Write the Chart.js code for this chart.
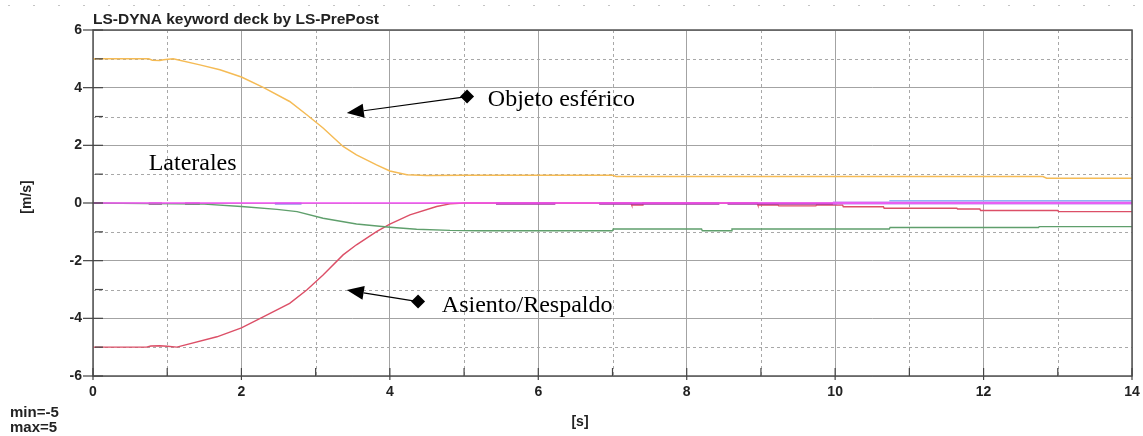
<!DOCTYPE html>
<html>
<head>
<meta charset="utf-8">
<title>LS-DYNA keyword deck by LS-PrePost</title>
<script src="https://cdn.jsdelivr.net/npm/chart.js@4.4.1/dist/chart.umd.min.js"></script>
<style>
  html,body{margin:0;padding:0;background:#fff;}
  #wrap{width:1143px;height:436px;position:relative;}
</style>
</head>
<body>
<div id="wrap"><canvas id="velChart" width="1143" height="436"></canvas></div>
<script>
/* ── DATA ─────────────────────────────────────────────── */
const xTicks = [0, 2, 4, 6, 8, 10, 12, 14];
const yTicks = [-6, -4, -2, 0, 2, 4, 6];

// Objeto esférico (orange)
const orangeT = [0, 0.75, 0.8, 0.9, 0.95, 1.08, 1.44, 1.71, 2.0, 2.3, 2.65, 2.88, 3.1, 3.37, 3.55, 3.82, 4.0, 4.23, 4.5, 5.0, 7.0, 7.05, 12.8, 12.85, 14];
const orangeV = [5, 5, 4.95, 4.94, 4.97, 5.0, 4.79, 4.62, 4.37, 4.0, 3.52, 3.06, 2.6, 1.96, 1.67, 1.32, 1.11, 0.98, 0.95, 0.96, 0.96, 0.92, 0.92, 0.86, 0.86];

// Asiento/Respaldo (red)
const redT = [0, 0.72, 0.78, 0.9, 1.0, 1.13, 1.67, 2.0, 2.3, 2.65, 2.88, 3.1, 3.37, 3.55, 3.82, 4.0, 4.27, 4.63, 4.81, 5.0, 7.25, 7.26, 7.4, 7.41, 8.95, 8.96, 9.23, 9.24, 9.74, 9.75, 10.1, 10.11, 10.65, 10.66, 11.64, 11.65, 11.95, 11.96, 13.0, 13.01, 14];
const redV = [-5, -5, -4.96, -4.95, -4.97, -5, -4.64, -4.33, -3.94, -3.48, -3.02, -2.5, -1.8, -1.45, -0.99, -0.73, -0.41, -0.12, -0.03, 0, 0, -0.07, -0.07, 0, 0, -0.07, -0.07, -0.1, -0.1, -0.07, -0.07, -0.13, -0.13, -0.18, -0.18, -0.21, -0.21, -0.26, -0.26, -0.3, -0.3];

// Laterales (green)
const greenT = [0, 1.5, 2.0, 2.48, 2.75, 3.1, 3.55, 4.0, 4.36, 4.81, 5.2, 7.0, 7.01, 8.2, 8.21, 8.6, 8.61, 10.73, 10.74, 12.74, 12.75, 14];
const greenV = [0, -0.04, -0.12, -0.22, -0.3, -0.53, -0.73, -0.84, -0.91, -0.95, -0.96, -0.96, -0.9, -0.9, -0.96, -0.96, -0.9, -0.9, -0.85, -0.85, -0.82, -0.82];

// small curves sitting on the zero line
const magentaT = [0, 14];
const magentaV = [0, 0];
const purpleStart = [0.75, 1.24, 5.43, 6.82, 8.55];
const purpleEnd   = [0.93, 1.44, 6.23, 8.44, 10.02];
const purpleV     = [-0.02, -0.02, -0.02, -0.02, -0.02];
const violetT = [2.45, 2.81];
const violetV = [-0.02, -0.02];
const lavenderT = [9.97, 14];
const lavenderV = [0.0, 0.0];
const blueT = [10.73, 14];
const blueV = [0.08, 0.08];

// callouts (data units)
const notes = [
  { text:'Objeto esférico',  tx:5.32, ty:3.58,  dx:5.04, dy:3.69,  ax:3.42, ay:3.12 },
  { text:'Asiento/Respaldo', tx:4.70, ty:-3.57, dx:4.38, dy:-3.42, ax:3.42, ay:-3.02 },
  { text:'Laterales',        tx:0.75, ty:1.36 },
];

/* ── HELPERS ──────────────────────────────────────────── */
const pts = (t, v) => t.map((x, i) => ({ x, y: v[i] }));
function segPts(s, e, v){
  const out = [];
  s.forEach((x, i) => { out.push({x, y:v[i]}, {x:e[i], y:v[i]}, {x:e[i], y:null}); });
  return out;
}
const ser = (label, data, color, w) => ({
  label, data, borderColor: color, borderWidth: w || 1.4,
  pointRadius: 0, tension: 0, fill: false, spanGaps: false
});

const AX_FONT = "'Liberation Sans', Arial, sans-serif";

/* ── FRAME / MINOR GRID / TEXT PLUGIN ─────────────────── */
const lsFrame = {
  id: 'lsFrame',
  beforeDatasetsDraw(chart){
    const {ctx, chartArea:a, scales:{x, y}} = chart;
    ctx.save();
    ctx.strokeStyle = '#a8a8a8';
    ctx.lineWidth = 1;
    ctx.setLineDash([3, 3]);
    for(let v = 1; v < 14; v += 2){
      const px = Math.round(x.getPixelForValue(v)) + 0.5;
      ctx.beginPath(); ctx.moveTo(px, a.top); ctx.lineTo(px, a.bottom); ctx.stroke();
    }
    for(let v = -5; v <= 5; v += 2){
      const py = Math.round(y.getPixelForValue(v)) + 0.5;
      ctx.beginPath(); ctx.moveTo(a.left, py); ctx.lineTo(a.right, py); ctx.stroke();
    }
    ctx.restore();
  },
  afterDraw(chart){
    const {ctx, chartArea:a, scales:{x, y}} = chart;
    ctx.save();
    // frame
    ctx.strokeStyle = '#555';
    ctx.lineWidth = 1.5;
    ctx.setLineDash([]);
    ctx.strokeRect(a.left, a.top, a.right - a.left, a.bottom - a.top);
    // tick marks
    ctx.lineWidth = 1.2;
    ctx.strokeStyle = '#444';
    for(let v = -6; v <= 6; v++){
      const py = y.getPixelForValue(v);
      ctx.beginPath();
      if(v % 2 === 0){ ctx.moveTo(a.left - 10, py); ctx.lineTo(a.left + 10, py); }
      else           { ctx.moveTo(a.left + 2, py);  ctx.lineTo(a.left + 10, py); }
      ctx.stroke();
    }
    for(let v = 0; v <= 14; v++){
      const px = x.getPixelForValue(v);
      ctx.beginPath();
      if(v % 2 === 0){ ctx.moveTo(px, a.bottom - 8); ctx.lineTo(px, a.bottom + 4); }
      else           { ctx.moveTo(px, a.bottom - 8); ctx.lineTo(px, a.bottom); }
      ctx.stroke();
    }
    // faint dotted strip at the very top
    ctx.strokeStyle = '#c4c4c4';
    ctx.lineWidth = 1;
    ctx.setLineDash([2, 23]);
    ctx.beginPath(); ctx.moveTo(8, 5.5); ctx.lineTo(1143, 5.5); ctx.stroke();
    ctx.setLineDash([]);

    // title + axis titles + min/max
    ctx.fillStyle = '#222';
    ctx.textBaseline = 'middle';
    ctx.textAlign = 'left';
    ctx.font = 'bold 15.5px ' + AX_FONT;
    ctx.fillText('LS-DYNA keyword deck by LS-PrePost', a.left, 19.5);
    ctx.font = 'bold 15px ' + AX_FONT;
    ctx.fillText('min=-5', 10, 413);
    ctx.fillText('max=5', 10, 428);
    ctx.font = 'bold 14px ' + AX_FONT;
    ctx.textAlign = 'center';
    ctx.fillText('[s]', 580, 422);
    ctx.save();
    ctx.translate(27, 197);
    ctx.rotate(-Math.PI / 2);
    ctx.fillText('[m/s]', 0, 0);
    ctx.restore();

    // callouts
    ctx.fillStyle = '#000';
    ctx.strokeStyle = '#000';
    notes.forEach(n => {
      if(n.dx !== undefined){
        const dx = x.getPixelForValue(n.dx), dy = y.getPixelForValue(n.dy);
        const ax = x.getPixelForValue(n.ax), ay = y.getPixelForValue(n.ay);
        const ang = Math.atan2(ay - dy, ax - dx);
        const hl = 17, hw = 7;
        const bx = ax - Math.cos(ang) * hl, by = ay - Math.sin(ang) * hl;
        ctx.lineWidth = 1.2;
        ctx.beginPath(); ctx.moveTo(dx, dy); ctx.lineTo(bx, by); ctx.stroke();
        ctx.beginPath();
        ctx.moveTo(ax, ay);
        ctx.lineTo(bx + Math.sin(ang) * hw, by - Math.cos(ang) * hw);
        ctx.lineTo(bx - Math.sin(ang) * hw, by + Math.cos(ang) * hw);
        ctx.closePath(); ctx.fill();
        const r = 7;
        ctx.beginPath();
        ctx.moveTo(dx, dy - r); ctx.lineTo(dx + r, dy); ctx.lineTo(dx, dy + r); ctx.lineTo(dx - r, dy);
        ctx.closePath(); ctx.fill();
      }
      ctx.font = "24px 'Liberation Serif', 'Times New Roman', serif";
      ctx.textAlign = 'left';
      ctx.fillText(n.text, x.getPixelForValue(n.tx), y.getPixelForValue(n.ty));
    });
    ctx.restore();
  }
};

/* ── CHART ────────────────────────────────────────────── */
const gridCol = c => (c.tick && c.tick.value % 2 === 0) ? '#a3a3a3' : 'rgba(0,0,0,0)';

new Chart(document.getElementById('velChart'), {
  type: 'line',
  data: {
    datasets: [
      ser('Magenta', pts(magentaT, magentaV), '#f550f5', 1.6),
      ser('Objeto esférico', pts(orangeT, orangeV), '#f5bb55', 1.5),
      ser('Laterales', pts(greenT, greenV), '#5f9f6c', 1.4),
      ser('Lavanda', pts(lavenderT, lavenderV), '#c28af0', 3),
      ser('Azul', pts(blueT, blueV), '#8cb6f5', 1.6),
      ser('Violeta', pts(violetT, violetV), '#7b6ee0', 2),
      ser('Púrpura', segPts(purpleStart, purpleEnd, purpleV), '#a23a9e', 2.2),
      ser('Asiento/Respaldo', pts(redT, redV), '#dc4f67', 1.4),
    ]
  },
  options: {
    responsive: false,
    devicePixelRatio: 1,
    animation: false,
    layout: { padding: { top: 30, left: 0, right: 11, bottom: 30 } },
    plugins: { legend: { display: false }, tooltip: { enabled: false } },
    scales: {
      x: {
        type: 'linear', min: 0, max: 14,
        afterFit: s => { s.height = 30; s.paddingLeft = 0; s.paddingRight = 0; },
        afterBuildTicks: s => { s.ticks = Array.from({length: 15}, (_, i) => ({ value: i })); },
        grid: { color: gridCol, lineWidth: 1, drawTicks: false },
        border: { display: false },
        ticks: {
          padding: 8, maxRotation: 0, autoSkip: false,
          color: '#222', font: { family: AX_FONT, size: 14, weight: 'bold' },
          callback: v => xTicks.includes(v) ? String(v) : ''
        }
      },
      y: {
        type: 'linear', min: -6, max: 6,
        afterFit: s => { s.width = 93; s.paddingTop = 0; s.paddingBottom = 0; },
        afterBuildTicks: s => { s.ticks = Array.from({length: 13}, (_, i) => ({ value: i - 6 })); },
        grid: { color: gridCol, lineWidth: 1, drawTicks: false },
        border: { display: false },
        ticks: {
          padding: 11, autoSkip: false,
          color: '#222', font: { family: AX_FONT, size: 14, weight: 'bold' },
          callback: v => yTicks.includes(v) ? String(v) : ''
        }
      }
    }
  },
  plugins: [lsFrame]
});
</script>
</body>
</html>
